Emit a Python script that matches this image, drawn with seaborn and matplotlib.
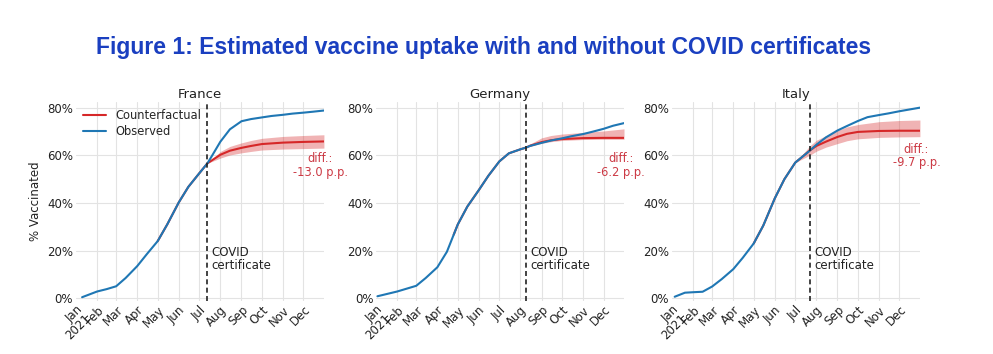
import matplotlib
matplotlib.use("Agg")
import matplotlib.pyplot as plt
import seaborn as sns
import pandas as pd

# ---------------- data ----------------
countries = ["France", "Germany", "Italy"]
cert_dates = ["2021-07-13", "2021-08-09", "2021-07-23"]
diff_labels = ["diff.:\n-13.0 p.p.", "diff.:\n-6.2 p.p.", "diff.:\n-9.7 p.p."]

month_ticks = ["2021-01-01", "2021-02-01", "2021-03-01", "2021-04-01", "2021-05-01",
               "2021-06-01", "2021-07-01", "2021-08-01", "2021-09-01", "2021-10-01",
               "2021-11-01", "2021-12-01"]
month_labels = ["Jan\n2021", "Feb", "Mar", "Apr", "May", "Jun", "Jul", "Aug",
                "Sep", "Oct", "Nov", "Dec"]

# France
fr_obs_dates = ["2021-01-10", "2021-02-01", "2021-02-15", "2021-03-01", "2021-03-15",
                "2021-04-01", "2021-04-15", "2021-05-01", "2021-05-15", "2021-06-01",
                "2021-06-15", "2021-07-01", "2021-07-13", "2021-07-20", "2021-08-01",
                "2021-08-15", "2021-09-01", "2021-09-15", "2021-10-01", "2021-10-15",
                "2021-11-01", "2021-11-15", "2021-12-01", "2021-12-15", "2021-12-31"]
fr_obs = [0.4, 2.8, 3.8, 5.0, 8.5, 13.5, 18.5, 24.0, 31.0, 40.3, 46.8, 52.5, 56.7,
          60.0, 65.8, 71.0, 74.4, 75.3, 76.0, 76.6, 77.1, 77.6, 78.0, 78.4, 78.9]
fr_cf_dates = ["2021-05-01", "2021-05-15", "2021-06-01", "2021-06-15", "2021-07-01",
               "2021-07-13", "2021-08-01", "2021-08-15", "2021-09-01", "2021-09-15",
               "2021-10-01", "2021-11-01", "2021-12-01", "2021-12-31"]
fr_cf = [24.0, 31.0, 40.3, 46.8, 52.5, 56.7, 60.3, 62.0, 63.2, 64.0, 64.8, 65.4,
         65.7, 65.9]
fr_cf_lo = [24.0, 31.0, 40.3, 46.8, 52.5, 56.7, 58.9, 60.2, 61.1, 61.7, 62.3, 62.7,
            62.9, 63.1]
fr_cf_hi = [24.0, 31.0, 40.3, 46.8, 52.5, 56.7, 61.7, 63.8, 65.3, 66.3, 67.2, 68.0,
            68.4, 68.7]

# Germany
de_obs_dates = ["2021-01-03", "2021-02-01", "2021-03-01", "2021-03-15", "2021-04-01",
                "2021-04-15", "2021-05-01", "2021-05-15", "2021-06-01", "2021-06-15",
                "2021-07-01", "2021-07-15", "2021-08-01", "2021-08-09", "2021-08-15",
                "2021-09-01", "2021-09-15", "2021-10-01", "2021-10-15", "2021-11-01",
                "2021-11-15", "2021-12-01", "2021-12-15", "2021-12-31"]
de_obs = [0.8, 2.8, 5.2, 8.5, 13.0, 19.5, 31.0, 38.5, 45.5, 51.5, 57.5, 60.9, 62.6,
          63.3, 64.0, 65.3, 66.3, 67.2, 68.1, 69.0, 70.0, 71.2, 72.5, 73.6]
de_cf_dates = ["2021-04-25", "2021-05-01", "2021-05-15", "2021-06-01", "2021-06-15",
               "2021-07-01", "2021-07-15", "2021-08-01", "2021-08-09", "2021-08-15",
               "2021-09-01", "2021-09-15", "2021-10-01", "2021-11-01", "2021-12-01",
               "2021-12-31"]
de_cf = [26.7, 31.0, 38.5, 45.5, 51.5, 57.5, 60.9, 62.6, 63.3, 64.1, 65.6, 66.4,
         66.9, 67.3, 67.4, 67.4]
de_cf_lo = [26.7, 31.0, 38.5, 45.5, 51.5, 57.5, 60.9, 62.6, 63.3, 63.8, 65.1, 65.8,
            66.3, 66.7, 66.8, 66.8]
de_cf_hi = [26.7, 31.0, 38.5, 45.5, 51.5, 57.5, 60.9, 62.6, 63.3, 64.8, 67.4, 68.4,
            69.0, 69.7, 70.3, 71.2]

# Italy
it_obs_dates = ["2021-01-05", "2021-01-20", "2021-02-01", "2021-02-15", "2021-03-01",
                "2021-03-15", "2021-04-01", "2021-04-15", "2021-05-01", "2021-05-15",
                "2021-06-01", "2021-06-15", "2021-07-01", "2021-07-23", "2021-08-01",
                "2021-08-15", "2021-09-01", "2021-09-15", "2021-10-01", "2021-10-15",
                "2021-11-01", "2021-11-15", "2021-12-01", "2021-12-15", "2021-12-31"]
it_obs = [0.6, 2.3, 2.5, 2.7, 4.9, 8.0, 12.2, 17.0, 23.0, 30.5, 42.0, 50.0, 57.0,
          62.2, 64.5, 67.6, 70.5, 72.4, 74.5, 76.1, 77.0, 77.7, 78.6, 79.3, 80.1]
it_cf_dates = ["2021-05-01", "2021-05-15", "2021-06-01", "2021-06-15", "2021-07-01",
               "2021-07-23", "2021-08-01", "2021-08-15", "2021-09-01", "2021-09-15",
               "2021-10-01", "2021-11-01", "2021-12-01", "2021-12-31"]
it_cf = [23.0, 30.5, 42.0, 50.0, 57.0, 62.2, 64.0, 65.8, 67.8, 69.1, 69.9, 70.3,
         70.4, 70.4]
it_cf_lo = [23.0, 30.5, 42.0, 50.0, 57.0, 60.2, 61.8, 63.5, 65.0, 66.2, 67.0, 67.6,
            67.8, 67.9]
it_cf_hi = [23.0, 30.5, 42.0, 50.0, 57.0, 64.2, 66.4, 68.3, 70.5, 72.0, 73.0, 74.2,
            74.7, 74.9]

obs_dates = [fr_obs_dates, de_obs_dates, it_obs_dates]
obs_vals = [fr_obs, de_obs, it_obs]
cf_dates = [fr_cf_dates, de_cf_dates, it_cf_dates]
cf_vals = [fr_cf, de_cf, it_cf]
cf_lo = [fr_cf_lo, de_cf_lo, it_cf_lo]
cf_hi = [fr_cf_hi, de_cf_hi, it_cf_hi]

# ---------------- style ----------------
sns.set_theme(style="whitegrid")
plt.rcParams["font.family"] = ["DejaVu Sans"]

RED = "#d62728"
BLUE = "#1f77b4"
DIFF_RED = "#cc3a45"
GRID = "#e3e3e3"
TXT = "#222222"

fig = plt.figure(figsize=(9.93, 3.54), dpi=100)

lefts = [0.0765, 0.3787, 0.6767]
width = 0.2497
bottom = 0.151
height = 0.561
diff_y = [55.8, 55.8, 59.8]

xmin = pd.Timestamp("2021-01-01")
xmax = pd.Timestamp("2021-12-31")

for i, c in enumerate(countries):
    ax = fig.add_axes([lefts[i], bottom, width, height])
    df_obs = pd.DataFrame({"date": pd.to_datetime(obs_dates[i]), "value": obs_vals[i]})
    df_cf = pd.DataFrame({"date": pd.to_datetime(cf_dates[i]), "value": cf_vals[i],
                          "lo": cf_lo[i], "hi": cf_hi[i]})
    ax.fill_between(df_cf["date"], df_cf["lo"], df_cf["hi"], color=RED, alpha=0.35,
                    linewidth=0)
    sns.lineplot(data=df_cf, x="date", y="value", ax=ax, color=RED, linewidth=1.5,
                 label="Counterfactual" if i == 0 else None)
    sns.lineplot(data=df_obs, x="date", y="value", ax=ax, color=BLUE, linewidth=1.5,
                 label="Observed" if i == 0 else None)

    cd = pd.Timestamp(cert_dates[i])
    ax.axvline(cd, color="#222222", linestyle=(0, (3, 2)), linewidth=1.2)
    ax.text(cd + pd.Timedelta(days=6), 16.4, "COVID\ncertificate", fontsize=8.5,
            color=TXT, ha="left", va="center", linespacing=1.0)
    ax.text(pd.Timestamp("2021-12-26"), diff_y[i], diff_labels[i], fontsize=8.3,
            color=DIFF_RED, ha="center", va="center", linespacing=1.05, clip_on=False)

    ax.set_xlim(xmin, xmax)
    ax.set_ylim(-1, 82.5)
    ax.set_yticks([0, 20, 40, 60, 80])
    ax.set_yticklabels(["0%", "20%", "40%", "60%", "80%"], fontsize=8.5, color=TXT)
    ax.set_xticks(pd.to_datetime(month_ticks))
    ax.set_xticklabels(month_labels, rotation=45, ha="right", rotation_mode="anchor",
                       fontsize=8.5, color=TXT, linespacing=0.9)
    ax.tick_params(axis="both", length=0, pad=2)
    ax.grid(True, color=GRID, linewidth=0.8)
    ax.xaxis.get_gridlines()[0].set_visible(False)
    for s in ax.spines.values():
        s.set_visible(False)
    ax.set_facecolor("white")
    ax.set_xlabel("")
    ax.set_title(c, fontsize=9.5, color=TXT, pad=3)
    if i == 0:
        ax.set_ylabel("% Vaccinated", fontsize=8.5, color=TXT, labelpad=4)
        ax.legend(loc="upper left", frameon=False, fontsize=8.3, handlelength=2.0,
                  borderaxespad=0.2, labelspacing=0.3, bbox_to_anchor=(0.0, 1.0))
    else:
        ax.set_ylabel("")
        if ax.get_legend() is not None:
            ax.get_legend().remove()

fig.text(0.487, 0.867, "Figure 1: Estimated vaccine uptake with and without COVID certificates",
         ha="center", va="center", fontsize=16.5, fontweight="bold", color="#1a3fc0",
         family=["Liberation Sans", "DejaVu Sans"])

fig.savefig("out.png", dpi=100, facecolor="white")
